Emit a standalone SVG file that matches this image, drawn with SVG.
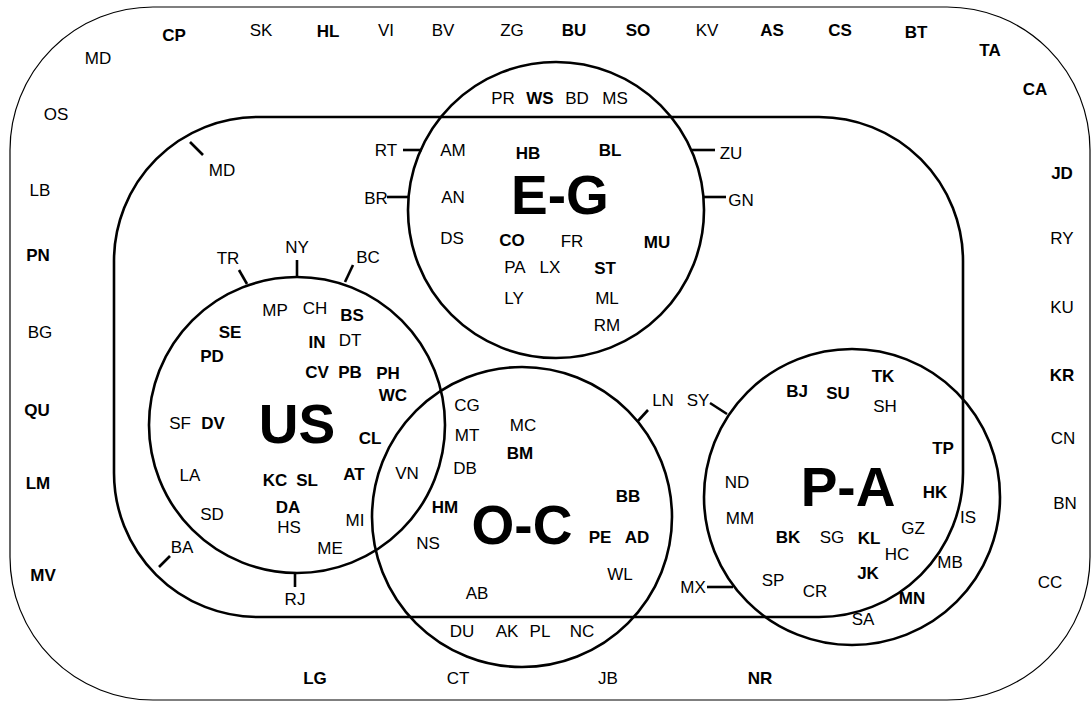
<svg xmlns="http://www.w3.org/2000/svg" width="1091" height="702" viewBox="0 0 1091 702">
  <style>
    .bg { fill: #ffffff; }
    .frame { fill: none; stroke: #000; stroke-width: 1.2; }
    .region { fill: none; stroke: #000; stroke-width: 2.6; }
    .tick { stroke: #000; stroke-width: 2.6; fill: none; }
    text { font-family: "Liberation Sans Narrow", "Liberation Sans", Arial, sans-serif; font-size: 17px; fill: #000; text-anchor: middle; }
    .b { font-weight: bold; }
    .big { font-family: "Liberation Sans", Arial, sans-serif; font-size: 55px; font-weight: bold; }
  </style>
  <rect class="bg" x="0" y="0" width="1091" height="702"/>

  <!-- outer rounded border -->
  <g id="world">
    <rect class="frame" x="10" y="7" width="1080" height="693" rx="143" ry="143"/>
    <text x="174" y="41" class="b">CP</text>
    <text x="98" y="64">MD</text>
    <text x="56" y="120">OS</text>
    <text x="40" y="196">LB</text>
    <text x="38" y="261" class="b">PN</text>
    <text x="40" y="338">BG</text>
    <text x="37" y="416" class="b">QU</text>
    <text x="38" y="489" class="b">LM</text>
    <text x="43" y="581" class="b">MV</text>
    <text x="261" y="36">SK</text>
    <text x="328" y="37" class="b">HL</text>
    <text x="386" y="36">VI</text>
    <text x="443" y="36">BV</text>
    <text x="512" y="36">ZG</text>
    <text x="574" y="36" class="b">BU</text>
    <text x="638" y="36" class="b">SO</text>
    <text x="707" y="36">KV</text>
    <text x="772" y="36" class="b">AS</text>
    <text x="840" y="36" class="b">CS</text>
    <text x="916" y="38" class="b">BT</text>
    <text x="990" y="56" class="b">TA</text>
    <text x="1035" y="95" class="b">CA</text>
    <text x="1062" y="179" class="b">JD</text>
    <text x="1062" y="244">RY</text>
    <text x="1062" y="313">KU</text>
    <text x="1062" y="381" class="b">KR</text>
    <text x="1063" y="444">CN</text>
    <text x="1065" y="509">BN</text>
    <text x="1050" y="588">CC</text>
    <text x="315" y="684" class="b">LG</text>
    <text x="458" y="684">CT</text>
    <text x="608" y="684">JB</text>
    <text x="760" y="684" class="b">NR</text>
  </g>

  <!-- inner rounded region -->
  <g id="inner">
    <rect class="region" x="114" y="117" width="849" height="500" rx="144" ry="144"/>
    <text x="222" y="176">MD</text>
    <text x="386" y="156">RT</text>
    <text x="376" y="204">BR</text>
    <text x="731" y="159">ZU</text>
    <text x="741" y="206">GN</text>
    <text x="228" y="264">TR</text>
    <text x="297" y="253">NY</text>
    <text x="368" y="263">BC</text>
    <text x="663" y="406">LN</text>
    <text x="698" y="406">SY</text>
    <text x="182" y="553">BA</text>
    <text x="295" y="605">RJ</text>
    <text x="693" y="593">MX</text>
  </g>

  <!-- E-G circle -->
  <g id="eg">
    <circle class="region" cx="556" cy="210" r="148"/>
    <text x="560" y="214" class="big">E-G</text>
    <text x="503" y="104">PR</text>
    <text x="540" y="104" class="b">WS</text>
    <text x="577" y="104">BD</text>
    <text x="615" y="104">MS</text>
    <text x="453" y="156">AM</text>
    <text x="528" y="159" class="b">HB</text>
    <text x="610" y="156" class="b">BL</text>
    <text x="453" y="203">AN</text>
    <text x="452" y="244">DS</text>
    <text x="512" y="246" class="b">CO</text>
    <text x="572" y="247">FR</text>
    <text x="657" y="248" class="b">MU</text>
    <text x="515" y="273">PA</text>
    <text x="550" y="273">LX</text>
    <text x="605" y="274" class="b">ST</text>
    <text x="514" y="304">LY</text>
    <text x="607" y="304">ML</text>
    <text x="607" y="331">RM</text>
  </g>

  <!-- US circle -->
  <g id="us">
    <circle class="region" cx="297" cy="425" r="148"/>
    <text x="297" y="443" class="big">US</text>
    <text x="275" y="316">MP</text>
    <text x="315" y="314">CH</text>
    <text x="352" y="321" class="b">BS</text>
    <text x="230" y="338" class="b">SE</text>
    <text x="317" y="348" class="b">IN</text>
    <text x="350" y="346">DT</text>
    <text x="212" y="362" class="b">PD</text>
    <text x="317" y="378" class="b">CV</text>
    <text x="350" y="378" class="b">PB</text>
    <text x="388" y="379" class="b">PH</text>
    <text x="393" y="401" class="b">WC</text>
    <text x="180" y="429">SF</text>
    <text x="213" y="429" class="b">DV</text>
    <text x="370" y="444" class="b">CL</text>
    <text x="190" y="481">LA</text>
    <text x="275" y="486" class="b">KC</text>
    <text x="307" y="486" class="b">SL</text>
    <text x="354" y="480" class="b">AT</text>
    <text x="407" y="479">VN</text>
    <text x="288" y="513" class="b">DA</text>
    <text x="289" y="533">HS</text>
    <text x="212" y="520">SD</text>
    <text x="355" y="526">MI</text>
    <text x="330" y="554">ME</text>
  </g>

  <!-- O-C circle -->
  <g id="oc">
    <circle class="region" cx="522" cy="517" r="150"/>
    <text x="522" y="544" class="big">O-C</text>
    <text x="467" y="411">CG</text>
    <text x="467" y="441">MT</text>
    <text x="523" y="431">MC</text>
    <text x="520" y="459" class="b">BM</text>
    <text x="465" y="474">DB</text>
    <text x="445" y="513" class="b">HM</text>
    <text x="628" y="502" class="b">BB</text>
    <text x="600" y="543" class="b">PE</text>
    <text x="637" y="543" class="b">AD</text>
    <text x="428" y="549">NS</text>
    <text x="620" y="580">WL</text>
    <text x="477" y="599">AB</text>
    <text x="462" y="637">DU</text>
    <text x="507" y="637">AK</text>
    <text x="540" y="637">PL</text>
    <text x="582" y="637">NC</text>
  </g>

  <!-- P-A circle -->
  <g id="pa">
    <circle class="region" cx="852" cy="497" r="148"/>
    <text x="848" y="506" class="big">P-A</text>
    <text x="797" y="397" class="b">BJ</text>
    <text x="838" y="399" class="b">SU</text>
    <text x="883" y="382" class="b">TK</text>
    <text x="885" y="412">SH</text>
    <text x="943" y="454" class="b">TP</text>
    <text x="737" y="488">ND</text>
    <text x="935" y="498" class="b">HK</text>
    <text x="740" y="524">MM</text>
    <text x="968" y="523">IS</text>
    <text x="913" y="534">GZ</text>
    <text x="788" y="543" class="b">BK</text>
    <text x="832" y="543">SG</text>
    <text x="869" y="544" class="b">KL</text>
    <text x="897" y="560">HC</text>
    <text x="950" y="568">MB</text>
    <text x="868" y="579" class="b">JK</text>
    <text x="773" y="586">SP</text>
    <text x="815" y="597">CR</text>
    <text x="912" y="604" class="b">MN</text>
    <text x="863" y="625">SA</text>
  </g>

  <!-- short leader ticks from labels to region borders -->
  <g id="connectors">
    <line class="tick" x1="403" y1="150" x2="422" y2="150"/>
    <line class="tick" x1="387" y1="197" x2="409" y2="197"/>
    <line class="tick" x1="692" y1="150" x2="715" y2="150"/>
    <line class="tick" x1="704" y1="197" x2="726" y2="197"/>
    <line class="tick" x1="190" y1="142" x2="203" y2="155"/>
    <line class="tick" x1="239" y1="270" x2="247" y2="284"/>
    <line class="tick" x1="297" y1="260" x2="297" y2="277"/>
    <line class="tick" x1="353" y1="265" x2="345" y2="282"/>
    <line class="tick" x1="170" y1="556" x2="159" y2="567"/>
    <line class="tick" x1="295" y1="573" x2="295" y2="587"/>
    <line class="tick" x1="648" y1="410" x2="637" y2="422"/>
    <line class="tick" x1="710" y1="403" x2="727" y2="414"/>
    <line class="tick" x1="707" y1="587" x2="733" y2="587"/>
  </g>
</svg>
